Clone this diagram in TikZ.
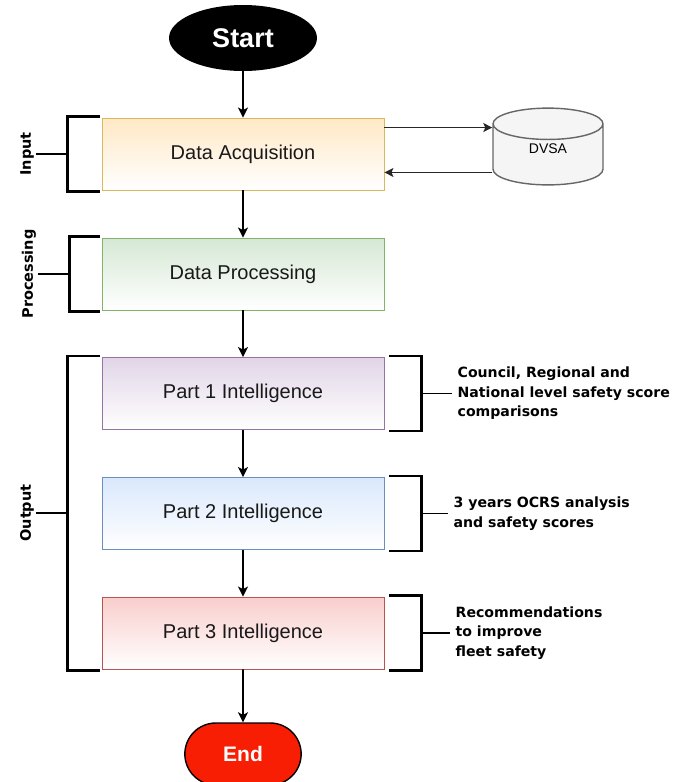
\documentclass[tikz,border=0pt]{standalone}
\usepackage{fontspec}
\setmainfont{Liberation Sans}
\newfontfamily\heavyfont{DejaVu Sans}
\usepackage{tikz}
\usetikzlibrary{calc}
\usetikzlibrary{shapes.geometric,shapes.misc,arrows.meta}
\definecolor{acqfill}{HTML}{FFE8C6}
\definecolor{acqline}{HTML}{D9B95C}
\definecolor{procfill}{HTML}{D5E8D4}
\definecolor{procline}{HTML}{82B366}
\definecolor{onefill}{HTML}{E1D5E7}
\definecolor{oneline}{HTML}{9673A6}
\definecolor{twofill}{HTML}{DAE8FC}
\definecolor{twoline}{HTML}{6C8EBF}
\definecolor{threefill}{HTML}{F8CECC}
\definecolor{threeline}{HTML}{B85450}
\definecolor{dvsafill}{HTML}{F5F5F5}
\definecolor{dvsaline}{HTML}{666666}
\definecolor{endred}{HTML}{F81E04}
\tikzset{
  stepbox/.style 2 args={draw=#2, top color=#1, bottom color=white, line width=0.9pt,
    minimum width=282pt, minimum height=72pt, text=black!90,
    font=\fontsize{20}{24}\selectfont},
  flow/.style={-{Stealth[length=10pt,width=10pt,inset=2.5pt]}, line width=1.6pt},
  link/.style={-{Stealth[length=9pt,width=9pt,inset=2pt]}, line width=1.3pt, black!85},
  brace/.style={line width=2.6pt},
  stem/.style={line width=1.6pt},
  phase/.style={rotate=90, inner sep=2pt, text height=10.5pt, text depth=3pt,
    font=\heavyfont\bfseries\fontsize{14.5}{16}\selectfont},
  side/.style={align=left, inner sep=0pt,
    font=\heavyfont\bfseries\fontsize{14.1}{19.5}\selectfont}
}

\begin{document}
\begin{tikzpicture}[x=1pt, y=-1pt]
  \useasboundingbox (0,0) rectangle (686,782);

  \node[ellipse, fill=black, minimum width=148pt, minimum height=66pt, inner sep=0,
    text=white, font=\bfseries\fontsize{27}{32}\selectfont] (start) at (243,38) {Start};
  \node[stepbox={acqfill}{acqline}] (acq) at (243,154) {Data Acquisition};
  \node[stepbox={procfill}{procline}] (proc) at (243,274) {Data Processing};
  \node[stepbox={onefill}{oneline}] (part1) at (243,393.5) {Part 1 Intelligence};
  \node[stepbox={twofill}{twoline}] (part2) at (243,513.5) {Part 2 Intelligence};
  \node[stepbox={threefill}{threeline}] (part3) at (243,633) {Part 3 Intelligence};
  \node[rounded rectangle, draw, line width=1.4pt, fill=endred, minimum width=123pt,
    minimum height=62pt, text=white, font=\bfseries\fontsize{21}{25}\selectfont] (end) at (243,754) {End};
  \node[cylinder, shape border rotate=90, draw=dvsaline, line width=1.4pt, fill=dvsafill,
    aspect=0.7, minimum width=110pt, minimum height=73pt, anchor=shape center,
    text depth=18pt, font=\fontsize{14}{17}\selectfont] (dvsa) at (548,146.5) {DVSA};

  \foreach \a/\b in {start/acq, acq/proc, proc/part1, part1/part2, part2/part3, part3/end}
    \draw[flow] (\a) -- (\b);

  \coordinate (out) at ($(acq.north east)+(0,10)$);
  \coordinate (back) at ($(acq.south east)+(0,-18)$);
  \draw[link] (out) -- (out -| dvsa.west);
  \draw[link] (back -| dvsa.west) -- (back);

  \node[phase] (input) at (27,154) {Input};
  \node[phase] (processing) at (29,274) {Processing};
  \node[phase] (output) at (27,513) {Output};
  \draw[brace] ($(acq.north west)+(-2,-1)$) -- ++(-32,0) coordinate (lacq) |- ($(acq.south west)+(-2,1)$);
  \draw[brace] ($(proc.north west)+(-2,-1)$) -- ++(-30,0) coordinate (lproc) |- ($(proc.south west)+(-2,1)$);
  \draw[brace] ($(part1.north west)+(-2,-1)$) -- ++(-32,0) coordinate (lout) |- ($(part3.south west)+(-2,1)$);
  \draw[stem] (input.south) -- (input.south -| lacq);
  \draw[stem] (processing.south) -- (processing.south -| lproc);
  \draw[stem] (output.south) -- (output.south -| lout);

  \node[side, anchor=west] (note1) at ($(part1.east)+(73,0)$) {Council, Regional and\\National level safety score\\comparisons};
  \node[side, anchor=west] (note2) at ($(part2.east)+(69,0)$) {3 years OCRS analysis\\and safety scores};
  \node[side, anchor=west] (note3) at ($(part3.east)+(71,0)$) {Recommendations\\to improve\\fleet safety};
  \foreach \p/\n in {part1/note1, part2/note2, part3/note3} {
    \draw[brace] ($(\p.north east)+(5,-1)$) -- ++(32,0) coordinate (r\p) |- ($(\p.south east)+(5,1)$);
    \draw[stem] (\p.east -| r\p) -- ([xshift=-5pt]\n.west);
  }
\end{tikzpicture}
\end{document}
